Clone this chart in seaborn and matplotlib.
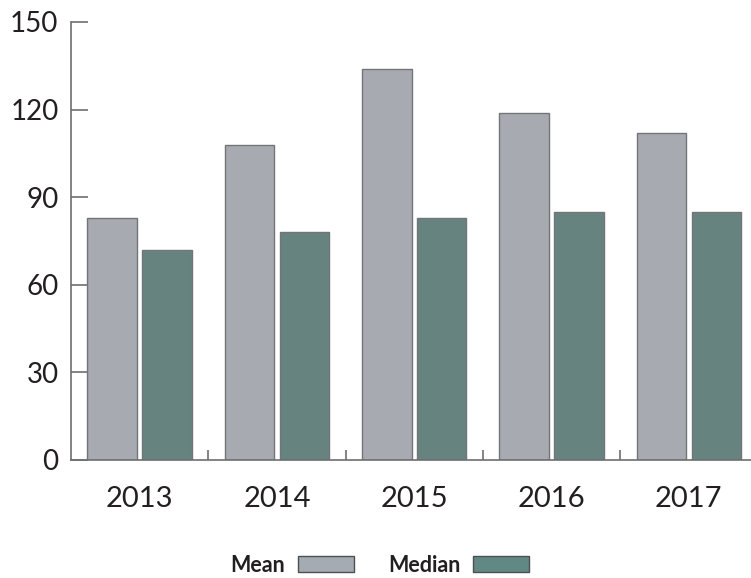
import pandas as pd
import seaborn as sns
import matplotlib.pyplot as plt
from matplotlib.patches import Patch

# Data
years = ["2013", "2014", "2015", "2016", "2017"]
mean_vals = [83, 108, 134, 119, 112]
median_vals = [72, 78, 83, 85, 85]
series = ["Mean", "Median"]
colors = {"Mean": "#A5ABB3", "Median": "#628884"}
edge = "#717478"

df = pd.DataFrame({
    "year": years * 2,
    "value": mean_vals + median_vals,
    "stat": ["Mean"] * len(years) + ["Median"] * len(years),
})

sns.set_style("white")
plt.rcParams["font.family"] = ["Lato", "DejaVu Sans"]
plt.rcParams["text.color"] = "#231f20"

fig = plt.figure(figsize=(7.51, 5.78), dpi=100)
ax = fig.add_axes([71 / 751, 1 - 460 / 578, (757.5 - 71) / 751, 438 / 578])

sns.barplot(data=df, x="year", y="value", hue="stat", palette=colors,
            width=0.8, gap=0.1, edgecolor=edge, linewidth=1.0,
            legend=False, ax=ax)

ax.set_xlim(-0.5, 4.5)
ax.set_ylim(0, 150)
ax.set_yticks(range(0, 151, 30))
ax.set_xlabel("")
ax.set_ylabel("")

for s in ["top", "right"]:
    ax.spines[s].set_visible(False)
for s in ["left", "bottom"]:
    ax.spines[s].set_color("#6d6e70")
    ax.spines[s].set_linewidth(1.2)

# inward ticks on y, group separators on x
ax.tick_params(axis="y", left=True, direction="in", length=12, width=1.2,
               color="#6d6e70", labelsize=20, labelcolor="#231f20", pad=9)
ax.tick_params(axis="x", which="major", bottom=True, length=0, labelsize=21,
               labelcolor="#231f20", pad=19)
ax.set_xticks([i + 0.5 for i in range(len(years) - 1)], minor=True)
ax.tick_params(axis="x", which="minor", bottom=True, direction="in", length=7,
               width=1.2, color="#6d6e70")

handles = [Patch(facecolor=colors[s], edgecolor="#4d4f52", linewidth=1.0, label=s)
           for s in series]
fig.legend(handles=handles, loc="center", bbox_to_anchor=(380 / 751, 1 - 565 / 578),
           ncol=2, frameon=False, markerfirst=False,
           prop={"size": 15.5, "weight": "bold"},
           handlelength=2.6, handleheight=0.75, handletextpad=0.6,
           columnspacing=1.58, borderpad=0)

fig.savefig("out.png", dpi=100)
